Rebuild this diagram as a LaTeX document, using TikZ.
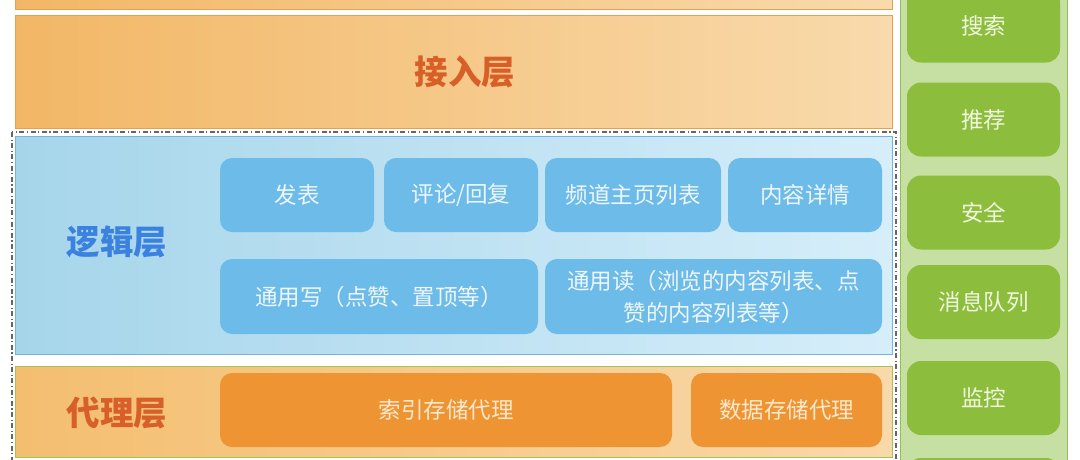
\documentclass[tikz,border=0pt]{standalone}
\usepackage{fontspec}
\newfontfamily\cjk{Noto Sans CJK SC}
\definecolor{accL}{HTML}{F2B766}
\definecolor{accR}{HTML}{F9DAAC}
\definecolor{accB}{HTML}{E8A050}
\definecolor{logL}{HTML}{A6D5EA}
\definecolor{logR}{HTML}{D6EEFA}
\definecolor{logB}{HTML}{72B6E0}
\definecolor{bluebox}{HTML}{6CBBE8}
\definecolor{bluetxt}{HTML}{EEF6FC}
\definecolor{proL}{HTML}{F4BE70}
\definecolor{proR}{HTML}{F9D8AA}
\definecolor{proB}{HTML}{A3C455}
\definecolor{orbox}{HTML}{EE9433}
\definecolor{ortxt}{HTML}{FCE8CC}
\definecolor{gpanel}{HTML}{C6E0A4}
\definecolor{gpanelB}{HTML}{92C050}
\definecolor{gbox}{HTML}{8DBD3C}
\definecolor{gtxt}{HTML}{F0F7DE}
\definecolor{redlab}{HTML}{D85F27}
\definecolor{bluelab}{HTML}{3B82E0}
\tikzset{
  layer/.style={draw, line width=1pt},
  subbox/.style={rounded corners=12pt, inner sep=0pt, font=\cjk\fontsize{22.5}{32}\selectfont, align=center},
  bluesub/.style={subbox, fill=bluebox, text=bluetxt},
  orsub/.style={subbox, fill=orbox, text=ortxt},
  gsub/.style={subbox, rounded corners=14pt, fill=gbox, text=gtxt, minimum width=153pt, minimum height=74pt},
  laylabel/.style={font=\cjk\bfseries\fontsize{33.5}{38}\selectfont}
}
\begin{document}
\begin{tikzpicture}[x=1pt,y=-1pt]
\useasboundingbox (0,0) rectangle (1080,459);
\fill[white] (0,0) rectangle (1080,459);
% top strip
\draw[layer, draw=accB, left color=accL, right color=accR] (15,-5) rectangle (892,9);
% access layer
\draw[layer, draw=accB, left color=accL, right color=accR] (15,15) rectangle (892,128);
\node[laylabel, text=redlab] (acc) at (465,72) {接入层};
% dashed container
\draw[dash pattern=on 5pt off 2.5pt on 1.2pt off 2.5pt, line width=1.4pt, draw=black!60] (12,132) rectangle (896,475);
% logic layer
\draw[layer, draw=logB, left color=logL, right color=logR] (15,136) rectangle (892,354);
\node[laylabel, text=bluelab] (logic) at (117,242) {逻辑层};
\node[bluesub, minimum width=154pt, minimum height=74pt] (fabiao) at (297,195) {发表};
\node[bluesub, minimum width=154pt, minimum height=74pt] (pinglun) at (461,195) {评论/回复};
\node[bluesub, minimum width=176pt, minimum height=74pt] (pindao) at (633,195) {频道主页列表};
\node[bluesub, minimum width=154pt, minimum height=74pt] (xiangqing) at (805,195) {内容详情};
\node[bluesub, minimum width=318pt, minimum height=75pt] (xie) at (379,296.5) {通用写（点赞、置顶等）};
\node[bluesub, minimum width=337pt, minimum height=75pt] (du) at (713.5,296.5) {通用读（浏览的内容列表、点\\赞的内容列表等）};
% proxy layer
\draw[layer, draw=proB, left color=proL, right color=proR] (15,366) rectangle (892,457);
\node[laylabel, text=redlab] (proxy) at (117,413) {代理层};
\node[orsub, minimum width=452pt, minimum height=74pt] (suoyin) at (446,410) {索引存储代理};
\node[orsub, minimum width=191pt, minimum height=74pt] (shuju) at (786.5,410) {数据存储代理};
% green side panel
\draw[line width=1pt, draw=gpanelB, fill=gpanel] (900,-5) rectangle (1067,475);
\node[gsub] (sousuo) at (983.5,25.5) {搜索};
\node[gsub] (tuijian) at (983.5,119.5) {推荐};
\node[gsub] (anquan) at (983.5,212.5) {安全};
\node[gsub] (mq) at (983.5,302) {消息队列};
\node[gsub] (jiankong) at (983.5,398) {监控};
\node[gsub] (next) at (983.5,495) {};
\end{tikzpicture}
\end{document}
